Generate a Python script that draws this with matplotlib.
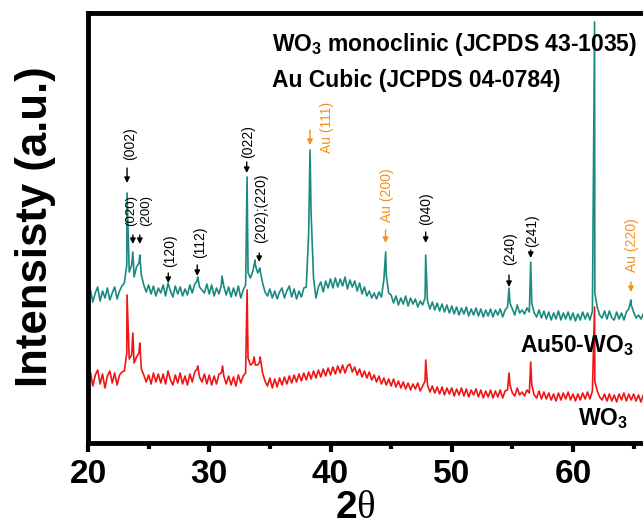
import numpy as np
import matplotlib.pyplot as plt

# 字体：Arial 风格的粗体
plt.rcParams['font.family'] = ['Liberation Sans', 'DejaVu Sans']
plt.rcParams['mathtext.fontset'] = 'custom'
plt.rcParams['mathtext.bf'] = 'Liberation Sans:bold'
plt.rcParams['mathtext.rm'] = 'Liberation Sans'
plt.rcParams['mathtext.it'] = 'Liberation Serif'

# 2θ 网格 (20 ~ 66, 步长 0.2)
two_theta = np.linspace(20, 66, 231)

# Au50-WO3 背景 (每行 1 度, 5 个点)
teal_bg = [
    143, 153, 141, 150, 156,   # 20
    142, 152, 145, 155, 143,   # 21
    150, 156, 144, 152, 157,   # 22
    160, 178, 171, 178, 166,   # 23
    176, 180, 168, 158, 151,   # 24
    158, 149, 157, 147, 155,   # 25
    150, 158, 147, 160, 152,   # 26
    146, 157, 149, 156, 147,   # 27
    154, 148, 158, 150, 159,   # 28
    162, 156, 153, 150, 159,   # 29
    149, 158, 147, 155, 149,   # 30
    158, 157, 148, 156, 146,   # 31
    155, 147, 157, 145, 153,   # 32
    158, 170, 165, 172, 178,   # 33
    170, 172, 160, 151, 147,   # 34
    154, 145, 152, 144, 151,   # 35
    155, 145, 152, 157, 146,   # 36
    154, 144, 152, 146, 155,   # 37
    156, 210, 230, 165, 145,   # 38
    156, 161, 151, 162, 155,   # 39
    164, 155, 165, 156, 164,   # 40
    157, 166, 154, 163, 156,   # 41
    162, 152, 160, 149, 156,   # 42
    147, 152, 145, 150, 144,   # 43
    151, 146, 163, 168, 150,   # 44
    148, 140, 147, 138, 145,   # 45
    139, 147, 137, 145, 139,   # 46
    144, 136, 142, 138, 145,   # 47
    142, 134, 141, 133, 140,   # 48
    132, 139, 131, 138, 130,   # 49
    137, 129, 136, 128, 135,   # 50
    129, 136, 127, 134, 128,   # 51
    135, 127, 134, 126, 133,   # 52
    127, 134, 126, 133, 128,   # 53
    134, 126, 133, 136, 140,   # 54
    134, 128, 138, 130, 133,   # 55
    129, 135, 131, 140, 130,   # 56
    126, 133, 125, 132, 124,   # 57
    131, 123, 130, 124, 132,   # 58
    123, 130, 124, 131, 123,   # 59
    130, 122, 129, 123, 131,   # 60
    124, 130, 123, 132, 150,   # 61
    136, 128, 125, 132, 124,   # 62
    132, 125, 123, 131, 124,   # 63
    130, 123, 131, 134, 138,   # 64
    131, 125, 128, 124, 129,   # 65
    125,
]
teal_peak_x = [23.22, 23.70, 24.27, 29.05, 31.05, 33.12, 33.78, 34.18,
               38.31, 44.55, 47.85, 54.72, 56.51, 61.78, 64.78]
teal_peak_y = [250, 191, 188, 166, 167, 266, 183, 175,
               293, 191, 188, 155, 181, 421, 143]

# WO3 背景
red_bg = [
    61, 71, 57, 68, 73,   # 20
    59, 69, 55, 67, 72,   # 21
    60, 70, 58, 68, 71,   # 22
    72, 90, 84, 88, 80,   # 23
    86, 90, 74, 68, 61,   # 24
    68, 59, 70, 61, 69,   # 25
    60, 69, 59, 72, 63,   # 26
    58, 68, 60, 70, 59,   # 27
    67, 58, 69, 61, 71,   # 28
    74, 66, 61, 69, 59,   # 29
    68, 58, 67, 59, 69,   # 30
    70, 67, 59, 67, 58,   # 31
    66, 57, 68, 60, 67,   # 32
    70, 85, 78, 80, 78,   # 33
    78, 82, 70, 62, 57,   # 34
    65, 55, 64, 56, 65,   # 35
    58, 66, 59, 67, 60,   # 36
    68, 61, 69, 62, 70,   # 37
    63, 71, 64, 72, 65,   # 38
    73, 66, 74, 67, 75,   # 39
    68, 76, 69, 77, 70,   # 40
    78, 70, 77, 79, 71,   # 41
    76, 68, 74, 66, 72,   # 42
    65, 71, 63, 68, 61,   # 43
    67, 59, 65, 58, 64,   # 44
    57, 64, 56, 62, 55,   # 45
    61, 54, 60, 53, 59,   # 46
    54, 60, 52, 57, 62,   # 47
    58, 51, 57, 50, 56,   # 48
    49, 56, 48, 55, 49,   # 49
    55, 47, 54, 48, 55,   # 50
    47, 54, 46, 53, 48,   # 51
    54, 46, 53, 45, 52,   # 52
    46, 53, 45, 52, 46,   # 53
    53, 45, 52, 53, 58,   # 54
    50, 47, 55, 48, 51,   # 55
    47, 53, 50, 58, 48,   # 56
    45, 52, 44, 51, 44,   # 57
    50, 43, 49, 42, 50,   # 58
    43, 50, 44, 51, 43,   # 59
    49, 42, 49, 43, 50,   # 60
    44, 51, 44, 52, 62,   # 61
    52, 46, 43, 49, 42,   # 62
    49, 42, 48, 41, 49,   # 63
    43, 50, 42, 49, 43,   # 64
    49, 42, 48, 41, 48,   # 65
    44,
]
red_peak_x = [23.22, 23.70, 24.27, 29.05, 31.10, 33.12, 33.70, 34.20,
              47.85, 54.72, 56.51, 61.78]
red_peak_y = [148, 110, 100, 77, 77, 153, 86, 86,
              83, 70, 81, 136]

# 晶面标注
hkl_labels = ['(002)', '(020)', '(200)', '(120)', '(112)', '(022)', '(202);(220)',
              'Au (111)', 'Au (200)', '(040)', '(240)', '(241)', 'Au (220)']
hkl_x = [23.22, 23.70, 24.27, 26.62, 29.01, 33.09, 34.12,
         38.31, 44.54, 47.85, 54.72, 56.51, 64.78]
arrow_tip = [260, 199, 199, 160, 167, 270, 181, 298, 200, 200, 156, 185, 151]
arrow_top = [275, 208, 208, 170, 178, 281, 190, 313, 213, 211, 168, 193, 161]
text_x = [23.45, 23.58, 24.78, 26.78, 29.24, 33.22, 34.27,
          39.71, 44.66, 47.88, 54.80, 56.59, 64.87]
text_bottom = [283, 217, 217, 176, 185, 285, 200, 290, 221, 218, 178, 196, 171]
text_size = [10, 9.5, 9.5, 10, 10, 10, 10, 10, 10, 10, 10, 10, 10]
is_au = [False, False, False, False, False, False, False,
         True, True, False, False, False, True]


def merge(bg, px, py):
    x = np.concatenate([two_theta, px])
    y = np.concatenate([bg, py])
    order = np.argsort(x, kind='stable')
    return x[order], y[order]


teal_x, teal_y = merge(teal_bg, teal_peak_x, teal_peak_y)
red_x, red_y = merge(red_bg, red_peak_x, red_peak_y)

teal = '#1a8a80'
red = '#f01414'
orange = '#f5901e'

fig = plt.figure(figsize=(6.43, 5.29), dpi=100)
ax = fig.add_axes([88 / 643, 1 - 443 / 529, 1 - 88 / 643, 430 / 529])

ax.plot(teal_x, teal_y, color=teal, lw=1.2)
ax.plot(red_x, red_y, color=red, lw=1.2)

for lab, x, tip, top, tx, tb, fs, au in zip(hkl_labels, hkl_x, arrow_tip, arrow_top,
                                            text_x, text_bottom, text_size, is_au):
    c = orange if au else 'black'
    ax.annotate('', xy=(x, tip), xytext=(x, top),
                arrowprops=dict(arrowstyle='-|>', color=c, lw=1.0,
                                mutation_scale=8, shrinkA=0, shrinkB=0))
    ax.text(tx, tb, lab, rotation=90, ha='center', va='bottom',
            fontsize=fs, color=c)

ax.text(35.18, 398, r'WO$_{\mathbf{3}}$ monoclinic (JCPDS 43-1035)',
        fontsize=16.5, fontweight='bold', va='center')
ax.text(35.18, 362, 'Au Cubic (JCPDS 04-0784)',
        fontsize=16.5, fontweight='bold', va='center')
ax.text(55.63, 97, r'Au50-WO$_{\mathbf{3}}$', fontsize=16.5,
        fontweight='bold', va='center')
ax.text(60.41, 24, r'WO$_{\mathbf{3}}$', fontsize=16.5,
        fontweight='bold', va='center')

ax.set_xlim(20, 20 + 555 / 12.125)
ax.set_ylim(0, 430)
ax.set_xticks([20, 30, 40, 50, 60])
ax.set_xticks([25, 35, 45, 55, 65], minor=True)
ax.set_yticks([])
ax.tick_params(axis='x', which='major', length=6.5, width=3, direction='out',
               labelsize=24, pad=5)
ax.tick_params(axis='x', which='minor', length=4.5, width=3, direction='out')
for t in ax.get_xticklabels():
    t.set_fontweight('bold')

for s in ['left', 'top', 'bottom']:
    ax.spines[s].set_linewidth(3.5)
ax.spines['right'].set_visible(False)

ax.set_xlabel(r'2$\theta$', fontsize=28, fontweight='bold')
ax.xaxis.label.set_va('center')
ax.xaxis.set_label_coords(0.481, -65 / 430)

fig.text(36 / 643, 1 - 227 / 529, 'Intensisty (a.u.)', rotation=90,
         ha='center', va='center', fontsize=31.5, fontweight='bold')

fig.savefig('out.png', dpi=100)
